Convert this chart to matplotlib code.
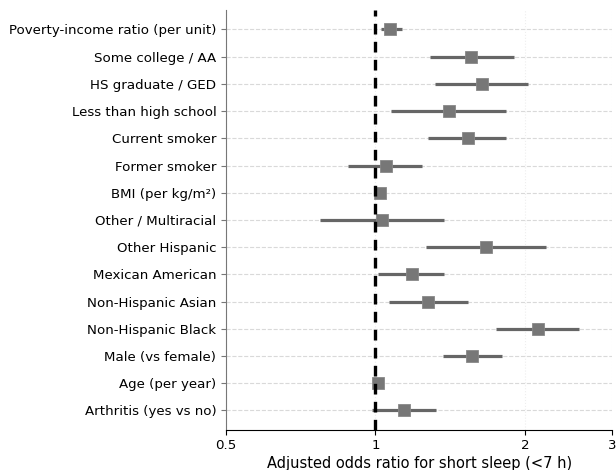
import matplotlib.pyplot as plt
from matplotlib.ticker import FixedLocator, NullLocator, FixedFormatter

labels = ['Poverty-income ratio (per unit)', 'Some college / AA', 'HS graduate / GED',
          'Less than high school', 'Current smoker', 'Former smoker', 'BMI (per kg/m²)',
          'Other / Multiracial', 'Other Hispanic', 'Mexican American', 'Non-Hispanic Asian',
          'Non-Hispanic Black', 'Male (vs female)', 'Age (per year)', 'Arthritis (yes vs no)']
odds = [1.07, 1.555, 1.637, 1.404, 1.534, 1.052, 1.022, 1.032,
        1.668, 1.182, 1.274, 2.121, 1.568, 1.012, 1.141]
ci_low = [1.027, 1.286, 1.316, 1.074, 1.276, 0.882, 1.012, 0.772,
          1.266, 1.012, 1.064, 1.75, 1.366, 1.006, 0.985]
ci_high = [1.132, 1.897, 2.025, 1.836, 1.836, 1.243, 1.032, 1.374,
           2.21, 1.374, 1.536, 2.576, 1.797, 1.018, 1.322]
xticks = [0.5, 1, 2, 3]

fig = plt.figure(figsize=(6.16, 4.7), dpi=100)
ax = fig.add_axes([0.367, 0.085, 0.627, 0.894])

n = len(labels)
ypos = [n - 1 - i for i in range(n)]
xerr = [[o - lo for o, lo in zip(odds, ci_low)], [hi - o for o, hi in zip(odds, ci_high)]]

ax.errorbar(odds, ypos, xerr=xerr, fmt='none', ecolor='#666666', elinewidth=2.3, capsize=0, zorder=3)
ax.plot(odds, ypos, 's', color='#777777', markersize=9, markeredgecolor='#888888',
        markeredgewidth=0.6, zorder=4)
ax.axvline(1, color='black', linestyle='--', linewidth=2.4, dashes=(3.2, 2.2), zorder=5)

ax.set_xscale('log')
ax.set_xlim(0.5, 3)
ax.xaxis.set_major_locator(FixedLocator(xticks))
ax.xaxis.set_major_formatter(FixedFormatter([str(t) for t in xticks]))
ax.xaxis.set_minor_locator(NullLocator())
ax.set_ylim(-0.72, n - 1 + 0.72)
ax.set_yticks(ypos)
ax.set_yticklabels(labels, fontsize=9.6)
ax.tick_params(axis='x', labelsize=9.6, pad=3)
ax.tick_params(axis='y', color='#777777')
ax.set_xlabel('Adjusted odds ratio for short sleep (<7 h)', fontsize=10.5, labelpad=3)

ax.grid(axis='y', linestyle='--', color='#d9d9d9', linewidth=0.8, zorder=0)
ax.grid(axis='x', linestyle=':', color='#eeeeee', linewidth=0.8, zorder=0)
ax.spines['top'].set_visible(False)
ax.spines['right'].set_visible(False)
ax.spines['left'].set_color('#777777')

fig.savefig('out.png', dpi=100)
